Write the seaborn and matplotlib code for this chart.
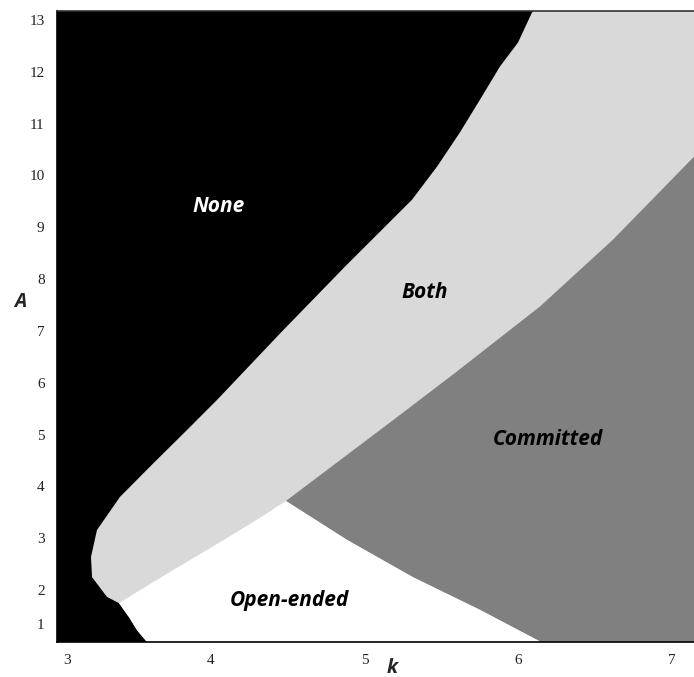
import matplotlib
matplotlib.use("Agg")
import matplotlib.pyplot as plt
import matplotlib.transforms as mtransforms
import seaborn as sns

# Panel extent in (k, A)
K_MIN, K_MAX = 3.0, 7.143
A_MIN, A_MAX = 1.0, 13.17

# Edge of the "None" region bordering "Both" (top of panel down to the triple point)
none_both_k = [6.100, 6.089, 5.998, 5.881, 5.751, 5.621, 5.472, 5.309, 4.873, 4.457,
               4.041, 3.846, 3.631, 3.410, 3.260, 3.221, 3.228, 3.325, 3.403]
none_both_A = [13.17, 13.14, 12.56, 12.10, 11.46, 10.83, 10.17, 9.53, 8.24, 6.97,
               5.67, 5.09, 4.46, 3.80, 3.16, 2.64, 2.25, 1.87, 1.75]

# Edge of the "None" region bordering "Open-ended"
none_open_k = [3.403, 3.468, 3.520, 3.585]
none_open_A = [1.75, 1.48, 1.23, 1.00]

# "Both" / "Committed" edge, right side of the panel down to the junction
both_comm_k = [7.143, 6.616, 6.141, 5.589, 5.231, 4.489]
both_comm_A = [10.36, 8.76, 7.47, 6.19, 5.38, 3.72]

# "Both" / "Open-ended" edge, junction down to the "None" boundary
both_open_k = [4.489, 4.301, 4.086, 3.865, 3.650, 3.403]
both_open_A = [3.72, 3.36, 2.97, 2.58, 2.20, 1.75]

# "Open-ended" / "Committed" edge, junction down to the bottom of the panel
open_comm_k = [4.489, 4.886, 5.315, 5.751, 6.148]
open_comm_A = [3.72, 2.97, 2.25, 1.62, 1.00]

# Region names and where they are written
region_names = ["None", "Both", "Committed", "Open-ended"]
region_k = [4.05, 5.39, 6.19, 4.51]
region_A = [9.40, 7.74, 4.90, 1.81]
region_text_colors = ["white", "black", "black", "black"]

x_ticks = [3, 4, 5, 6, 7]
y_ticks = list(range(1, 14))

sns.set_theme(style="white")
plt.rcParams["font.family"] = ["Open Sans", "DejaVu Sans"]

fig = plt.figure(figsize=(6.94, 6.77), dpi=100)
ax = fig.add_axes([57 / 694, 35 / 677, 637 / 694, 631 / 677])
ax.set_facecolor("black")

LIGHT = "#d9d9d9"
DARK = "#808080"

# Everything right of the "None" boundary starts out as "Both"
both_poly_k = none_both_k + none_open_k[1:] + [K_MAX, K_MAX]
both_poly_A = none_both_A + none_open_A[1:] + [A_MIN, A_MAX]
ax.fill(both_poly_k, both_poly_A, color=LIGHT, lw=0)

# "Committed"
comm_poly_k = both_comm_k + open_comm_k[1:] + [K_MAX]
comm_poly_A = both_comm_A + open_comm_A[1:] + [A_MIN]
ax.fill(comm_poly_k, comm_poly_A, color=DARK, lw=0)

# "Open-ended"
open_poly_k = both_open_k + none_open_k[1:] + open_comm_k[::-1]
open_poly_A = both_open_A + none_open_A[1:] + open_comm_A[::-1]
ax.fill(open_poly_k, open_poly_A, color="white", lw=0)

for name, kx, ay, col in zip(region_names, region_k, region_A, region_text_colors):
    ax.text(kx, ay, name, color=col, fontsize=15, fontweight="bold",
            fontstyle="italic", ha="center", va="center")

ax.set_xlim(K_MIN, K_MAX)
ax.set_ylim(A_MIN, A_MAX)
ax.set_xticks(x_ticks)
ax.set_yticks(y_ticks)
ax.set_xticklabels([str(t) for t in x_ticks], fontsize=11, family="Liberation Serif")
ax.set_yticklabels([str(t) for t in y_ticks], fontsize=11, family="Liberation Serif")
ax.tick_params(axis="x", length=0, pad=9, colors="#222222")
ax.tick_params(axis="y", length=0, pad=9, colors="#222222")

# keep the corner labels clear of the panel corner
lbl3 = ax.get_xticklabels()[0]
lbl3.set_transform(lbl3.get_transform() + mtransforms.ScaledTranslation(0.10, 0, fig.dpi_scale_trans))
lbl1 = ax.get_yticklabels()[0]
lbl1.set_transform(lbl1.get_transform() + mtransforms.ScaledTranslation(0, 0.18, fig.dpi_scale_trans))

ax.set_xlabel("k", fontsize=14, fontweight="bold", fontstyle="italic")
ax.xaxis.set_label_coords(0.526, -0.041)
ax.xaxis.label.set_va("center")
ax.set_ylabel("A", fontsize=14, fontweight="bold", fontstyle="italic", rotation=0)
ax.yaxis.set_label_coords(-0.058, 0.539)
ax.yaxis.label.set_va("center")
ax.yaxis.label.set_ha("center")

for side in ["top", "bottom", "left"]:
    ax.spines[side].set_color("black")
    ax.spines[side].set_linewidth(1.2)
    ax.spines[side].set_visible(True)
ax.spines["top"].set_color("#333333")
ax.spines["right"].set_visible(False)

fig.savefig("out.png", dpi=100)
